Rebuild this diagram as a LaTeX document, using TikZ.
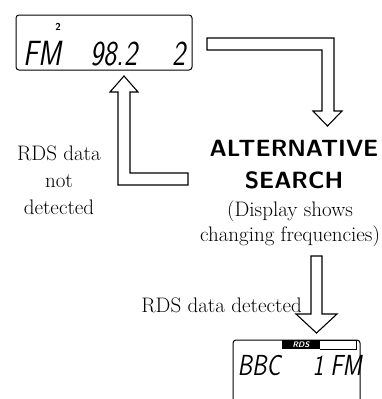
\documentclass[tikz,border=0pt]{standalone}
\usepackage{fontspec}
\newfontfamily\lcdfont{Latin Modern Sans}[FakeStretch=0.8]
\begin{document}
\begin{tikzpicture}[x=1pt, y=-1pt,
  lcd/.style = {draw, line width=1pt, rounded corners=3},
  seg/.style = {font=\lcdfont\itshape\fontsize{35}{35}\selectfont, inner sep=0pt, anchor=base},
  txt/.style = {font=\fontsize{21}{25}\selectfont, align=center, inner sep=0pt},
  head/.style = {font=\sffamily\bfseries\fontsize{23.5}{32}\selectfont, align=center, inner sep=0pt},
  block/.style = {draw, line width=1.1pt, fill=white, line join=miter}]
\clip (0, 0) rectangle (382, 399);
% upper display
\draw[lcd] (16, 15) rectangle (192, 70);
\node[font=\sffamily\bfseries\fontsize{10}{10}\selectfont] (mem) at (58, 27) {2};
\node[seg] (band) at (42, 65) {FM};
\node[seg] (freq) at (114, 65) {98.2};
\node[seg] (chan) at (179, 65) {2};
% lower display
\draw[lcd] (233, 340) rectangle (360, 420);
\fill (282, 340) rectangle (320, 349);
\draw[line width=.8pt] (320, 340) -- (356, 340) -- (356, 349) -- (320, 349);
\node[text=white, font=\sffamily\bfseries\itshape\fontsize{8}{8}\selectfont] (rds) at (301, 344.5) {RDS};
\node[seg, font=\lcdfont\itshape\fontsize{29}{29}\selectfont] (name) at (259, 375) {BBC};
\node[seg, font=\lcdfont\itshape\fontsize{29}{29}\selectfont] (prog) at (318, 375) {1};
\node[seg, font=\lcdfont\itshape\fontsize{29}{29}\selectfont] (fmb) at (346, 375) {FM};
% texts
\node[head] (alt) at (294, 165) {ALTERNATIVE\\SEARCH};
\node[txt] (note) at (290, 224) {(Display shows\\changing frequencies)};
\node[txt, font=\fontsize{21}{27}\selectfont] (nodet) at (59, 180) {RDS data\\not\\detected};
\node[txt, anchor=east] (det) at (302, 305) {RDS data detected};
% hollow arrows
\draw[block] (207, 38) -- (334, 38) -- (334, 111) -- (342, 111) -- (327.5, 126)
  -- (313, 111) -- (322, 111) -- (322, 50) -- (207, 50) -- cycle;
\draw[block] (124, 76) -- (138, 92) -- (130, 92) -- (130, 173) -- (188, 173)
  -- (188, 185) -- (118, 185) -- (118, 92) -- (110, 92) -- cycle;
\draw[block] (311, 256) -- (322, 256) -- (322, 314) -- (337, 314) -- (316.5, 333)
  -- (296, 314) -- (311, 314) -- cycle;
\end{tikzpicture}
\end{document}
